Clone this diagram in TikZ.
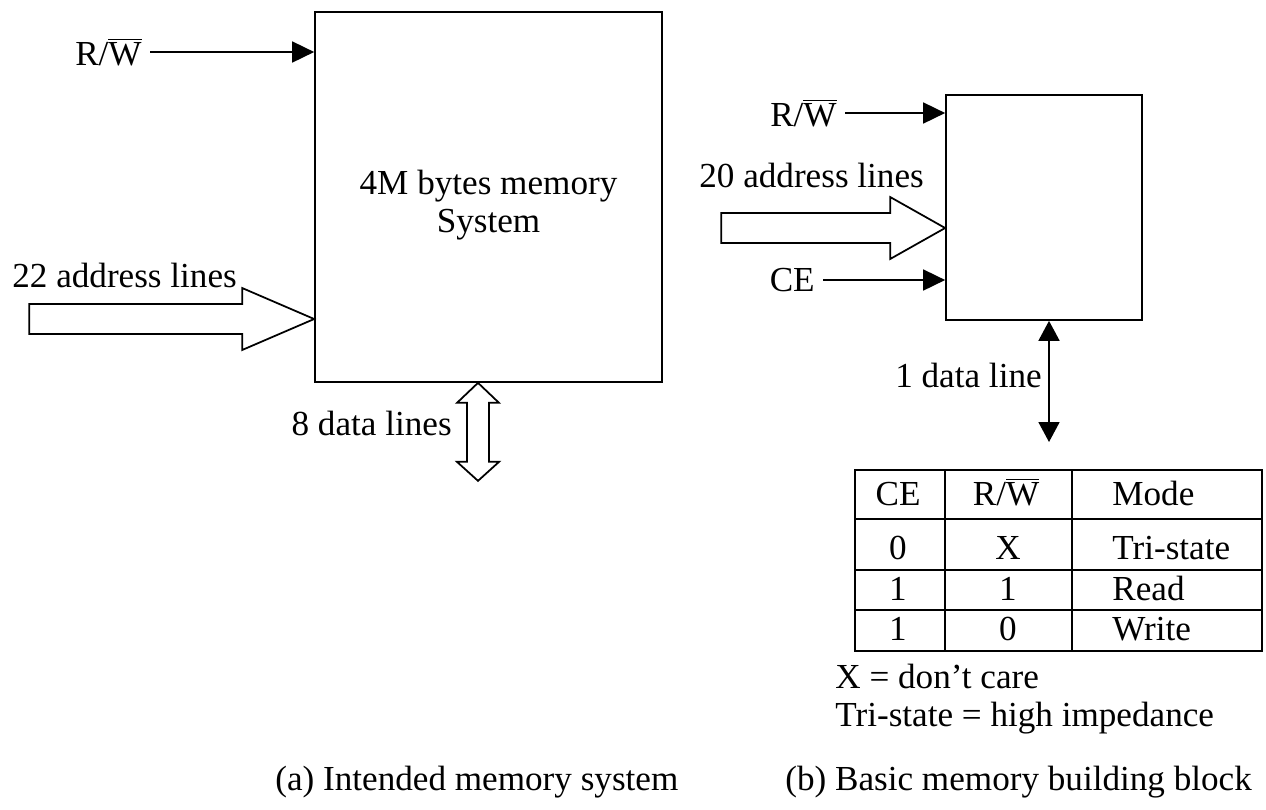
\documentclass[tikz,border=0pt]{standalone}
\usepackage{fontspec}
\setmainfont{Liberation Serif}
\usetikzlibrary{arrows.meta,positioning}

\newcommand{\RnW}{R/$\overline{\mbox{W}}$}

\begin{document}
\begin{tikzpicture}[
        x=0.02cm, y=-0.02cm,
        font=\fontsize{20}{21.6}\selectfont,
        block/.style={draw, rectangle, line width=1pt, align=center},
        lbl/.style={inner sep=0pt},
        sig/.style={-{Triangle[length=0.44cm, width=0.42cm]}, line width=1pt, shorten <=0.16cm},
        bidir/.style={{Triangle[length=0.4cm, width=0.42cm]}-{Triangle[length=0.4cm, width=0.42cm]}, line width=1pt},
        bus/.style={draw, line width=1pt, fill=white, line join=miter},
        grid/.style={line width=1pt}
    ]
        \useasboundingbox (0,0) rectangle (1266,809);

        % (a) the 4M byte system
        \node[block, minimum width=6.94cm, minimum height=7.4cm] (sys) at (488.5,197) {};
        \node[lbl, align=center] (sysname) at ([yshift=-0.17cm]sys.center) {4M bytes memory\\System};
        \node[lbl, anchor=east] (rwa) at (142,52) {\RnW};
        \draw[sig] (rwa) -- (rwa -| sys.west);

        % wide address bus into the system
        \node[lbl, anchor=base west] (adra) at (12,287) {22 address lines};
        \coordinate (adrtip) at (sys.west |- 0,319);
        \draw[bus] (adrtip) -- ++(-72,-31) -- ++(0,16) -- ++(-213,0) -- ++(0,30)
            -- ++(213,0) -- ++(0,16) -- cycle;

        % data bus, both ways
        \coordinate (dattip) at (sys.south -| 478,0);
        \draw[bus] (dattip) -- ++(21,20) -- ++(-10,0) -- ++(0,59) -- ++(10,0)
            -- ++(-21,19) -- ++(-21,-19) -- ++(10,0) -- ++(0,-59) -- ++(-10,0) -- cycle;
        \node[lbl, anchor=base east] (data) at (452,435) {8 data lines};

        % (b) the 1 bit building block
        \node[block, minimum width=3.92cm, minimum height=4.5cm] (blk) at (1044,207.5) {};
        \node[lbl, anchor=east] (rwb) at (837,113) {\RnW};
        \draw[sig] (rwb) -- (rwb -| blk.west);
        \node[lbl, anchor=east] (ce) at (815,280) {CE};
        \draw[sig] (ce) -- (ce -| blk.west);

        \node[lbl, anchor=base west] (adrb) at (699,187) {20 address lines};
        \coordinate (adrtipb) at (blk.west |- 0,228);
        \draw[bus] (adrtipb) -- ++(-55,-31) -- ++(0,16) -- ++(-169,0) -- ++(0,30)
            -- ++(169,0) -- ++(0,16) -- cycle;

        \coordinate (dout) at (1049,442);
        \draw[bidir] (blk.south -| dout) -- (dout);
        \node[lbl, anchor=base east] (datb) at (1042,387) {1 data line};

        % truth table
        \draw[grid] (855,470) rectangle (1262,651);
        \draw[grid] (855,519) -- (1262,519) (855,570) -- (1262,570) (855,610) -- (1262,610);
        \draw[grid] (945,470) -- (945,651) (1072,470) -- (1072,651);

        \node[lbl, anchor=base] (hce) at (898,505) {CE};
        \node[lbl, anchor=base] (hrw) at (1006,505) {\RnW};
        \node[lbl, anchor=base west] (hmode) at (1112,505) {Mode};
        \node[lbl, anchor=base] (ce1) at (898,559) {0};
        \node[lbl, anchor=base] (rw1) at (1008,559) {X};
        \node[lbl, anchor=base west] (md1) at (1112,559) {Tri-state};
        \node[lbl, anchor=base] (ce2) at (898,600) {1};
        \node[lbl, anchor=base] (rw2) at (1008,600) {1};
        \node[lbl, anchor=base west] (md2) at (1112,600) {Read};
        \node[lbl, anchor=base] (ce3) at (898,640) {1};
        \node[lbl, anchor=base] (rw3) at (1008,640) {0};
        \node[lbl, anchor=base west] (md3) at (1112,640) {Write};

        \node[lbl, anchor=base west] (note1) at (835,688) {X = don’t care};
        \node[lbl, anchor=base west] (note2) at (835,726) {Tri-state = high impedance};

        % captions
        \node[lbl, anchor=base west] (capa) at (275,790) {(a) Intended memory system};
        \node[lbl, anchor=base west] (capb) at (785,790) {(b) Basic memory building block};
    \end{tikzpicture}
\end{document}
